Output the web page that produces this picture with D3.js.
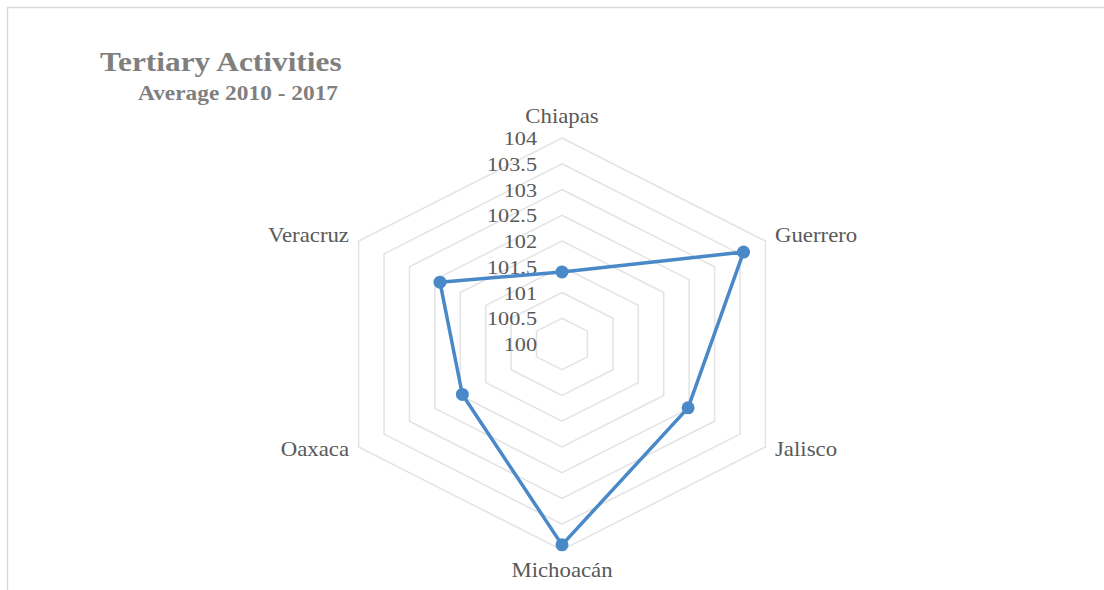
<!DOCTYPE html>
<html>
<head>
<meta charset="utf-8">
<script src="https://cdn.jsdelivr.net/npm/d3@7"></script>
<style>
  html, body { margin: 0; padding: 0; background: #fff; }
  svg { display: block; }
  text { font-family: "Liberation Serif", "Tinos", "Times New Roman", Times, "DejaVu Serif", serif; }
</style>
</head>
<body>
<div id="chart"></div>
<script>
// states around the radar, clockwise from the top
const categories = ["Chiapas", "Guerrero", "Jalisco", "Michoacán", "Oaxaca", "Veracruz"];
// average index 2010-2017
const values = [101.4, 103.57, 102.48, 103.9, 101.96, 102.4];
const tickValues = [100, 100.5, 101, 101.5, 102, 102.5, 103, 103.5, 104];
const tickLabels = ["100", "100.5", "101", "101.5", "102", "102.5", "103", "103.5", "104"];

const width = 1104, height = 590;
const cx = 562, cy = 344;
const stretch = 1.14; // picture is a bit wider than tall

const svg = d3.select("#chart").append("svg")
  .attr("width", width)
  .attr("height", height);

// chart frame
svg.append("rect")
  .attr("x", 7.5).attr("y", 7.5)
  .attr("width", 1200).attr("height", 700)
  .attr("fill", "none")
  .attr("stroke", "#d9d9d9")
  .attr("stroke-width", 1.5);

const r = d3.scaleLinear().domain([100, 104]).range([0, 206]);
const angle = d3.scaleLinear().domain([0, categories.length]).range([0, 2 * Math.PI]);

const px = (i, v) => cx + stretch * r(v) * Math.sin(angle(i));
const py = (i, v) => cy - r(v) * Math.cos(angle(i));

const g = svg.append("g");

// grid rings
const ring = d3.line().x(d => d[0]).y(d => d[1]).curve(d3.curveLinearClosed);
g.selectAll(".ring")
  .data(tickValues.slice(1))
  .join("path")
  .attr("class", "ring")
  .attr("d", v => ring(categories.map((c, i) => [px(i, v), py(i, v)])))
  .attr("fill", "none")
  .attr("stroke", "#e3e3e3")
  .attr("stroke-width", 1.5);

// tick labels along the top axis
g.selectAll(".tick-label")
  .data(tickValues)
  .join("text")
  .attr("class", "tick-label")
  .attr("transform", v => `translate(537, ${py(0, v) + 7}) scale(${stretch},1)`)
  .attr("text-anchor", "end")
  .attr("font-size", 19.5)
  .attr("fill", "#595959")
  .text((v, i) => tickLabels[i]);

// series line
const line = d3.line()
  .x((d, i) => px(i, d))
  .y((d, i) => py(i, d))
  .curve(d3.curveLinearClosed);

g.append("path")
  .attr("d", line(values))
  .attr("fill", "none")
  .attr("stroke", "#4a89c8")
  .attr("stroke-width", 3.5)
  .attr("stroke-linejoin", "round");

g.selectAll(".dot")
  .data(values)
  .join("circle")
  .attr("class", "dot")
  .attr("cx", (d, i) => px(i, d))
  .attr("cy", (d, i) => py(i, d))
  .attr("r", 6.5)
  .attr("fill", "#4a89c8");

// category labels
const labelPos = [
  { x: 562, y: 123, anchor: "middle" },
  { x: 775, y: 242, anchor: "start" },
  { x: 775, y: 456, anchor: "start" },
  { x: 562, y: 577, anchor: "middle" },
  { x: 349, y: 456, anchor: "end" },
  { x: 349, y: 242, anchor: "end" }
];
g.selectAll(".cat-label")
  .data(categories)
  .join("text")
  .attr("class", "cat-label")
  .attr("transform", (d, i) => `translate(${labelPos[i].x}, ${labelPos[i].y}) scale(${stretch},1)`)
  .attr("text-anchor", (d, i) => labelPos[i].anchor)
  .attr("font-size", 20)
  .attr("fill", "#595959")
  .text(d => d);

// titles
svg.append("text")
  .attr("transform", `translate(100, 71) scale(${stretch},1)`)
  .attr("font-size", 27.5)
  .attr("font-weight", "bold")
  .attr("fill", "#7f7f7f")
  .text("Tertiary Activities");

svg.append("text")
  .attr("transform", `translate(138, 100) scale(${stretch},1)`)
  .attr("font-size", 20.5)
  .attr("font-weight", "bold")
  .attr("fill", "#7f7f7f")
  .text("Average 2010 - 2017");
</script>
</body>
</html>
